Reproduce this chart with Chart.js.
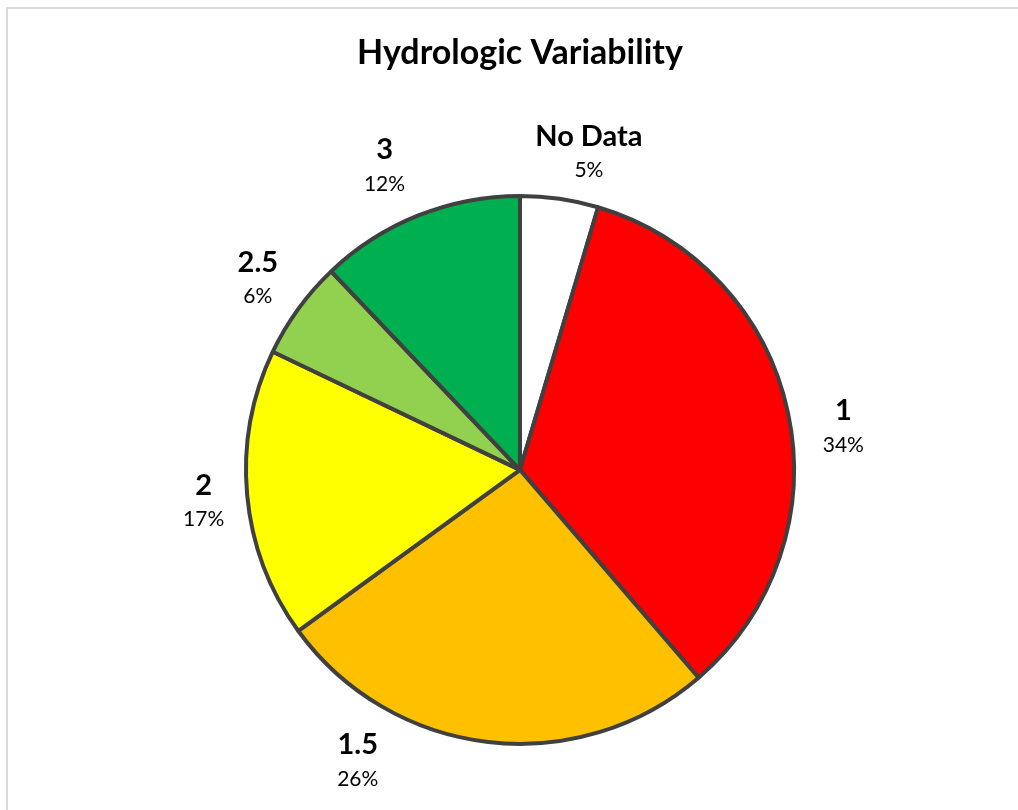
<!DOCTYPE html>
<html>
<head>
<meta charset="utf-8">
<script src="https://cdn.jsdelivr.net/npm/chart.js@4/dist/chart.umd.min.js"></script>
<style>
  html, body { margin: 0; padding: 0; background: #ffffff; }
  #wrap { width: 1018px; height: 810px; position: relative; }
</style>
</head>
<body>
<div id="wrap"><canvas id="c" width="1018" height="810"></canvas></div>
<script>
const chartTitle = 'Hydrologic Variability';
const categories = ['No Data', '1', '1.5', '2', '2.5', '3'];
const shares = [4.6, 34.1, 26.3, 17.1, 5.8, 12.1];
const sliceColors = ['#FFFFFF', '#FF0000', '#FFC000', '#FFFF00', '#92D050', '#00B050'];

const FONT = 'Lato, "Open Sans", "Noto Sans", sans-serif';

const frameAndLabels = {
  id: 'frameAndLabels',
  beforeDraw(chart) {
    const ctx = chart.ctx;
    ctx.save();
    ctx.fillStyle = '#ffffff';
    ctx.fillRect(0, 0, chart.width, chart.height);
    ctx.strokeStyle = '#d9d9d9';
    ctx.lineWidth = 2;
    ctx.beginPath();
    ctx.moveTo(7, chart.height);
    ctx.lineTo(7, 8);
    ctx.lineTo(chart.width, 8);
    ctx.stroke();
    ctx.restore();
  },
  afterDatasetsDraw(chart, args, opts) {
    const ctx = chart.ctx;
    const meta = chart.getDatasetMeta(0);
    const data = chart.data.datasets[0].data;
    const total = data.reduce((a, b) => a + b, 0);
    ctx.save();
    ctx.textAlign = 'center';
    ctx.textBaseline = 'middle';
    ctx.fillStyle = '#000000';
    meta.data.forEach((arc, i) => {
      const p = arc.getProps(['x', 'y', 'startAngle', 'endAngle', 'outerRadius'], true);
      const shift = (opts.angleShift[i] || 0) * Math.PI / 180;
      const mid = (p.startAngle + p.endAngle) / 2 + shift;
      const d = p.outerRadius + (opts.gap[i] || 0);
      const cx = p.x + Math.cos(mid) * d;
      const cy = p.y + Math.sin(mid) * d;
      ctx.font = 'bold 29px ' + FONT;
      ctx.fillText(chart.data.labels[i], cx, cy - 17);
      ctx.font = '21px ' + FONT;
      ctx.fillText(Math.round(data[i] / total * 100) + '%', cx, cy + 17);
    });
    ctx.restore();
  }
};

new Chart(document.getElementById('c'), {
  type: 'pie',
  data: {
    labels: categories,
    datasets: [{
      data: shares,
      backgroundColor: sliceColors,
      borderColor: '#404040',
      borderWidth: 4,
      hoverOffset: 0
    }]
  },
  options: {
    responsive: false,
    animation: false,
    events: [],
    radius: 274,
    layout: { padding: { left: 22, right: 0, top: 0, bottom: 0 } },
    plugins: {
      legend: { display: false },
      tooltip: { enabled: false },
      title: {
        display: true,
        text: chartTitle,
        color: '#000000',
        font: { family: FONT, size: 34, weight: 'bold', lineHeight: 1.2 },
        padding: { top: 33, bottom: 56 }
      },
      frameAndLabels: {
        angleShift: [4, 4.7, 22.4, -0.6, 0, -2.3],
        gap: [50, 52, 60, 44, 50, 58]
      }
    }
  },
  plugins: [frameAndLabels]
});
</script>
</body>
</html>
